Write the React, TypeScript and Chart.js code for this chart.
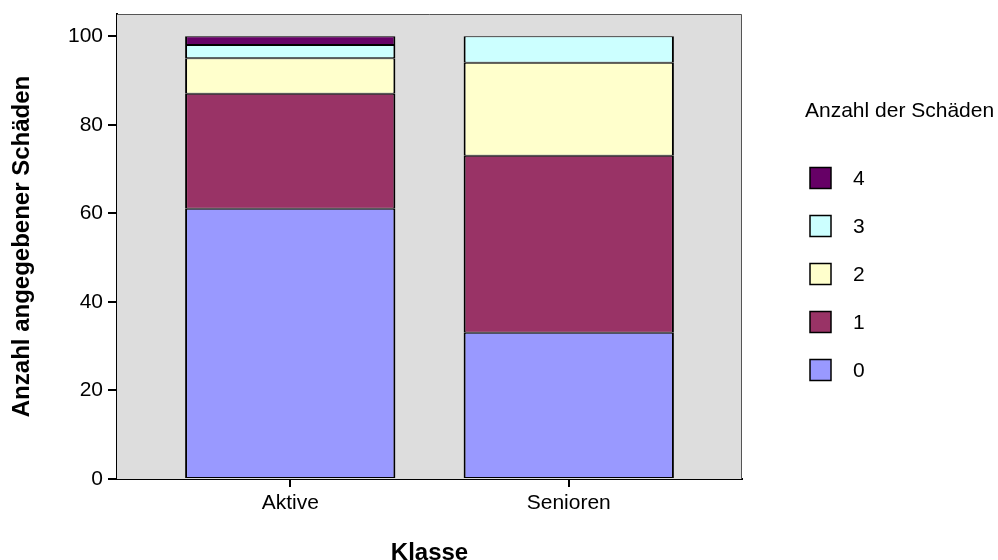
import React, { useEffect, useRef } from "react";
import { Chart, registerables } from "chart.js";

Chart.register(...registerables);

const categories = ["Aktive", "Senioren"];
const damageCounts = ["0", "1", "2", "3", "4"];
const aktiveValues = [61, 26, 8, 3, 2];
const seniorenValues = [33, 40, 21, 6, 0];
const seriesColors = ["#9999FF", "#993366", "#FFFFCC", "#CCFFFF", "#660066"];
const yTicks = [0, 20, 40, 60, 80, 100];

const FONT = "'Liberation Sans', Arial, sans-serif";
const legendTitle = "Anzahl der Schäden";

// gray plot background, thin frame on top/right, and the legend on the right
const plotDecor = {
  id: "plotDecor",
  beforeDatasetsDraw(chart: any) {
    const { ctx, chartArea } = chart;
    const { left, top, right, bottom } = chartArea;
    ctx.save();
    ctx.fillStyle = "#DDDDDD";
    ctx.fillRect(left, top, right - left, bottom - top);
    ctx.strokeStyle = "#555555";
    ctx.lineWidth = 1;
    ctx.beginPath();
    ctx.moveTo(left, top + 0.5);
    ctx.lineTo(right - 0.5, top + 0.5);
    ctx.lineTo(right - 0.5, bottom);
    ctx.stroke();
    ctx.restore();
  },
  afterDraw(chart: any) {
    const { ctx } = chart;
    ctx.save();
    ctx.fillStyle = "#000";
    ctx.font = `21px ${FONT}`;
    ctx.textBaseline = "middle";
    ctx.textAlign = "left";
    ctx.fillText(legendTitle, 805, 111);
    const ds = chart.data.datasets;
    const n = ds.length;
    for (let i = 0; i < n; i++) {
      const d = ds[n - 1 - i];
      const cy = 178 + i * 48;
      ctx.fillStyle = d.backgroundColor;
      ctx.fillRect(810, cy - 10.5, 21, 21);
      ctx.strokeStyle = "#000";
      ctx.lineWidth = 1.5;
      ctx.strokeRect(810, cy - 10.5, 21, 21);
      ctx.fillStyle = "#000";
      ctx.fillText(d.label, 853, cy + 1);
    }
    ctx.restore();
  },
};

export default function App() {
  const canvasRef = useRef<HTMLCanvasElement>(null);

  useEffect(() => {
    const canvas = canvasRef.current;
    if (!canvas) return;
    const datasets = damageCounts.map((label, i) => ({
      label,
      data: [
        { x: 0, y: aktiveValues[i] },
        { x: 1, y: seniorenValues[i] },
      ],
      backgroundColor: seriesColors[i],
      borderColor: "#000000",
      borderWidth: { top: 1, bottom: 1, left: 2, right: 2 },
      borderSkipped: false,
      categoryPercentage: 1,
      barPercentage: 0.755,
    }));
    const chart = new Chart(canvas, {
      type: "bar",
      data: { datasets },
      plugins: [plotDecor],
      options: {
        animation: false,
        responsive: false,
        maintainAspectRatio: false,
        layout: { padding: { top: 14, right: 256, left: 0, bottom: 0 } },
        plugins: {
          legend: { display: false },
          tooltip: { enabled: false },
        },
        scales: {
          x: {
            type: "linear",
            stacked: true,
            min: -0.622,
            max: 1.622,
            offset: false,
            afterFit: (s: any) => {
              s.height = 81;
              s.paddingLeft = 0;
              s.paddingRight = 0;
            },
            afterBuildTicks: (s: any) => {
              s.ticks = categories.map((_, i) => ({ value: i }));
            },
            grid: {
              offset: false,
              drawOnChartArea: false,
              drawTicks: true,
              tickLength: 8,
              color: "#000",
              lineWidth: 2,
            },
            border: { display: true, color: "#000", width: 2 },
            ticks: {
              color: "#000",
              font: { family: FONT, size: 21 },
              padding: 4,
              callback: (v: any) => categories[v] ?? "",
            },
            title: {
              display: true,
              text: "Klasse",
              color: "#000",
              font: { family: FONT, size: 24, weight: "bold" },
              padding: { top: 0, bottom: -8 },
            },
          },
          y: {
            stacked: true,
            min: 0,
            max: 105,
            afterFit: (s: any) => {
              s.width = 117;
              s.paddingTop = 0;
              s.paddingBottom = 0;
            },
            afterBuildTicks: (s: any) => {
              s.ticks = yTicks.map((v) => ({ value: v }));
            },
            grid: {
              drawOnChartArea: false,
              drawTicks: true,
              tickLength: 9,
              color: "#000",
              lineWidth: 2,
            },
            border: { display: true, color: "#000", width: 2 },
            ticks: {
              color: "#000",
              font: { family: FONT, size: 21 },
              padding: 5,
            },
            title: {
              display: true,
              text: "Anzahl angegebener Schäden",
              color: "#000",
              font: { family: FONT, size: 24, weight: "bold" },
              padding: { top: 8, bottom: 0 },
            },
          },
        },
      },
    });
    return () => chart.destroy();
  }, []);

  return (
    <div style={{ position: "fixed", left: 0, top: 0, width: 998, height: 560, background: "#fff" }}>
      <canvas ref={canvasRef} width={998} height={560} style={{ width: 998, height: 560 }} />
    </div>
  );
}
